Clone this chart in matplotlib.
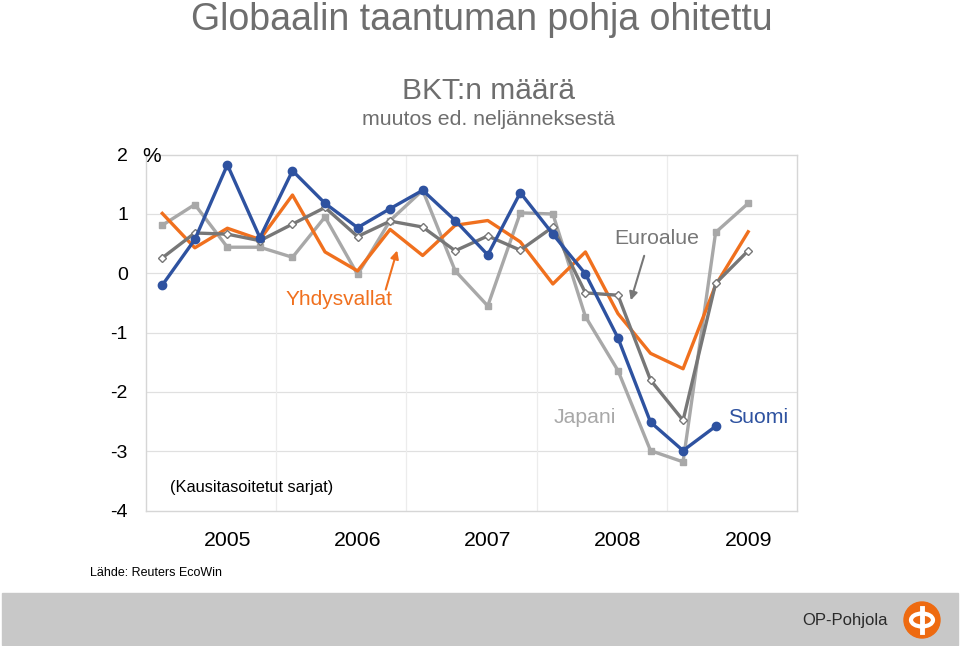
import matplotlib.pyplot as plt
from matplotlib.patches import Rectangle, Ellipse
from matplotlib.lines import Line2D

plt.rcParams['font.family'] = ['Liberation Sans', 'DejaVu Sans']

# Neljännesvuosittaiset BKT-muutokset, %, 2004Q4 -> 2009Q2
suomi = [-0.20, 0.57, 1.83, 0.60, 1.73, 1.18, 0.77, 1.09, 1.40, 0.89,
         0.31, 1.36, 0.66, -0.01, -1.09, -2.51, -2.99, -2.58]
yhdysvallat = [1.01, 0.43, 0.76, 0.57, 1.32, 0.36, 0.04, 0.74, 0.30, 0.81,
               0.89, 0.53, -0.18, 0.36, -0.68, -1.35, -1.61, -0.20, 0.70]
japani = [0.81, 1.16, 0.44, 0.44, 0.27, 0.95, -0.02, 0.89, 1.40, 0.04,
          -0.55, 1.02, 1.00, -0.73, -1.64, -2.99, -3.18, 0.69, 1.18]
euroalue = [0.26, 0.68, 0.66, 0.55, 0.83, 1.11, 0.62, 0.88, 0.78, 0.38,
            0.63, 0.39, 0.78, -0.33, -0.37, -1.80, -2.48, -0.17, 0.38]
vuodet = ['2005', '2006', '2007', '2008', '2009']

BLUE = '#2e52a0'
ORANGE = '#f0701e'
LGRAY = '#a8a8a8'
DGRAY = '#777777'

fig = plt.figure(figsize=(9.6, 6.46), dpi=100)
ax = fig.add_axes([146 / 960, 1 - 510.5 / 646, 651 / 960, 355.8 / 646])

ax.plot(range(len(japani)), japani, color=LGRAY, lw=2.4, marker='s', ms=5,
        mfc=LGRAY, mec=LGRAY, zorder=3)
ax.plot(range(len(yhdysvallat)), yhdysvallat, color=ORANGE, lw=2.4, zorder=4)
ax.plot(range(len(euroalue)), euroalue, color=DGRAY, lw=2.4, marker='D', ms=4.5,
        mfc='white', mec=DGRAY, mew=1, zorder=5)
ax.plot(range(len(suomi)), suomi, color=BLUE, lw=2.4, marker='o', ms=6,
        mfc=BLUE, mec=BLUE, zorder=6)

ax.set_xlim(-0.5, 19.5)
ax.set_ylim(-4, 2)
ax.set_yticks(range(-4, 3))
ax.set_yticklabels([str(v) for v in range(-4, 3)], fontsize=14)
ax.tick_params(axis='y', length=0, pad=13)
ax.set_xticks([])
for y in range(-3, 2):
    ax.axhline(y, color='#e0e0e0', lw=0.9, zorder=0)
for x in [3.5, 7.5, 11.5, 15.5]:
    ax.axvline(x, color='#ececec', lw=0.9, zorder=0)
for s in ax.spines.values():
    s.set_color('#d6d6d6')
    s.set_linewidth(1)

for i, v in enumerate(vuodet):
    ax.text(2 + 4 * i, -4.5, v, ha='center', va='center', fontsize=15.3)

ax.text(-0.62, 1.97, '%', ha='left', va='center', fontsize=15)
ax.text(0.25, -3.62, '(Kausitasoitetut sarjat)', ha='left', va='center', fontsize=11.8)
ax.text(17.38, -2.44, 'Suomi', color=BLUE, ha='left', va='center', fontsize=15.3)
ax.text(12.03, -2.44, 'Japani', color=LGRAY, ha='left', va='center', fontsize=15.3)
ax.text(13.9, 0.58, 'Euroalue', color=DGRAY, ha='left', va='center', fontsize=15.3)
ax.text(3.8, -0.45, 'Yhdysvallat', color=ORANGE, ha='left', va='center', fontsize=15)
ax.annotate('', xy=(14.37, -0.5), xytext=(14.83, 0.34),
            arrowprops=dict(arrowstyle='-|>', color=DGRAY, lw=1.5, mutation_scale=12))
ax.annotate('', xy=(7.24, 0.43), xytext=(6.84, -0.32),
            arrowprops=dict(arrowstyle='-|>', color=ORANGE, lw=1.5, mutation_scale=12))

# otsikot
fig.text(482 / 960, 1 - 30 / 646, 'Globaalin taantuman pohja ohitettu',
         ha='center', va='baseline', fontsize=27, color='#6e6e6e')
fig.text(488 / 960, 1 - 99 / 646, 'BKT:n määrä', ha='center', va='baseline',
         fontsize=21.5, color='#6e6e6e')
fig.text(488 / 960, 1 - 125 / 646, 'muutos ed. neljänneksestä', ha='center',
         va='baseline', fontsize=15.3, color='#6e6e6e')
fig.text(90 / 960, 1 - 573 / 646, 'Lähde: Reuters EcoWin', ha='left',
         va='center', fontsize=9)

# alapalkki
fig.patches.append(Rectangle((2 / 960, 1 / 646), 956 / 960, 52 / 646,
                             transform=fig.transFigure, color='#c8c8c8', zorder=0))
fig.text(845 / 960, 1 - 620 / 646, 'OP-Pohjola', ha='center', va='center',
         fontsize=12, color='#2a2a2a')
fig.patches.append(Ellipse((922 / 960, 1 - 620 / 646), 36 / 960, 36 / 646,
                           transform=fig.transFigure, color='#ee6a10', zorder=1))
fig.patches.append(Ellipse((922 / 960, 1 - 620 / 646), 22 / 960, 13 / 646,
                           transform=fig.transFigure, fc='none', ec='white', lw=3, zorder=2))
fig.lines.append(Line2D([922 / 960, 922 / 960], [1 - 608 / 646, 1 - 632 / 646],
                        transform=fig.transFigure, color='white', lw=3.5, zorder=3))

fig.savefig('out.png', dpi=100)
